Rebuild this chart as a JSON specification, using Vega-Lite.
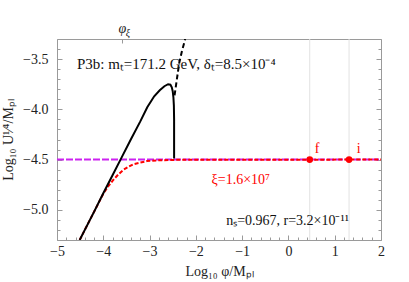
{
  "$schema": "https://vega.github.io/schema/vega-lite/v6.json",
  "width": 324,
  "height": 201,
  "autosize": {"type": "none"},
  "padding": {"left": 57, "top": 39, "right": 28, "bottom": 42},
  "background": "white",
  "config": {
    "view": {"stroke": null},
    "font": "Liberation Serif",
    "axis": {"labelFont": "Liberation Serif", "titleFont": "Liberation Serif", "labelFontSize": 14, "titleFontSize": 14, "titleFontWeight": "normal", "labelColor": "#222", "titleColor": "#222", "domainColor": "#9a9a9a", "tickColor": "#9a9a9a", "grid": false}
  },
  "datasets": {
    "solid": [
      {"i": 1, "phi": -4.51, "u": -5.30}, {"i": 2, "phi": -4.2, "u": -5.02}, {"i": 3, "phi": -4.0, "u": -4.835},
      {"i": 4, "phi": -3.8, "u": -4.655}, {"i": 5, "phi": -3.6, "u": -4.475}, {"i": 6, "phi": -3.4, "u": -4.295},
      {"i": 7, "phi": -3.2, "u": -4.12}, {"i": 8, "phi": -3.05, "u": -3.98}, {"i": 9, "phi": -2.9, "u": -3.87},
      {"i": 10, "phi": -2.78, "u": -3.81}, {"i": 11, "phi": -2.68, "u": -3.77}, {"i": 12, "phi": -2.6, "u": -3.75},
      {"i": 13, "phi": -2.55, "u": -3.755}, {"i": 14, "phi": -2.52, "u": -3.78}, {"i": 15, "phi": -2.5, "u": -3.82},
      {"i": 16, "phi": -2.485, "u": -3.88}, {"i": 17, "phi": -2.475, "u": -3.96}, {"i": 18, "phi": -2.47, "u": -4.1},
      {"i": 19, "phi": -2.47, "u": -4.49}
    ],
    "dashed": [
      {"i": 1, "phi": -2.46, "u": -3.86}, {"i": 2, "phi": -2.41, "u": -3.70}, {"i": 3, "phi": -2.36, "u": -3.54},
      {"i": 4, "phi": -2.30, "u": -3.42}, {"i": 5, "phi": -2.23, "u": -3.30}
    ],
    "red": [
      {"phi": -4.51, "u": -5.30}, {"phi": -4.3, "u": -5.11}, {"phi": -4.1, "u": -4.93}, {"phi": -4.0, "u": -4.84},
      {"phi": -3.9, "u": -4.77}, {"phi": -3.78, "u": -4.70}, {"phi": -3.67, "u": -4.645}, {"phi": -3.56, "u": -4.60},
      {"phi": -3.45, "u": -4.57}, {"phi": -3.34, "u": -4.545}, {"phi": -3.2, "u": -4.53}, {"phi": -3.06, "u": -4.515},
      {"phi": -2.8, "u": -4.507}, {"phi": -2.5, "u": -4.503}, {"phi": -2.0, "u": -4.501}, {"phi": 2.0, "u": -4.5}
    ],
    "flat": [{"phi": -5, "u": -4.5}, {"phi": 2, "u": -4.5}],
    "marks": [{"name": "f", "phi": 0.46, "u": -4.5}, {"name": "i", "phi": 1.31, "u": -4.5}],
    "titlenote": [{"x": -4.57, "y": -3.55, "text": "P3b: mₜ=171.2 GeV, δₜ=8.5×10⁻⁴"}],
    "blacknotes": [{"x": -0.02, "y": -5.11, "text": "nₛ=0.967, r=3.2×10⁻¹¹"}],
    "rednotes": [
      {"x": -1.03, "y": -4.70, "text": "ξ=1.6×10⁷"},
      {"x": 0.62, "y": -4.39, "text": "f"},
      {"x": 1.52, "y": -4.39, "text": "i"}
    ]
  },
  "resolve": {"axis": {"x": "independent", "y": "independent"}},
  "layer": [
    {
      "data": {"name": "marks"},
      "mark": {"type": "rule", "color": "#e2e2e2", "strokeWidth": 1},
      "encoding": {
        "x": {"field": "phi", "type": "quantitative", "scale": {"domain": [-5, 2], "nice": false, "zero": false}, "axis": null}
      }
    },
    {
      "data": {"name": "flat"},
      "mark": {"type": "line", "color": "#cc22f0", "strokeWidth": 2, "strokeDash": [7, 2]},
      "encoding": {
        "x": {"field": "phi", "type": "quantitative", "scale": {"domain": [-5, 2], "nice": false, "zero": false}, "axis": null},
        "y": {"field": "u", "type": "quantitative", "scale": {"domain": [-5.3, -3.3], "nice": false, "zero": false}, "axis": null}
      }
    },
    {
      "data": {"name": "red"},
      "mark": {"type": "line", "color": "#ff0000", "strokeWidth": 2, "strokeDash": [4, 2], "clip": true},
      "encoding": {
        "x": {"field": "phi", "type": "quantitative", "axis": null},
        "y": {"field": "u", "type": "quantitative", "axis": null}
      }
    },
    {
      "data": {"name": "solid"},
      "mark": {"type": "line", "color": "black", "strokeWidth": 2, "clip": true},
      "encoding": {
        "order": {"field": "i", "type": "quantitative"},
        "x": {"field": "phi", "type": "quantitative", "title": "Log₁₀ φ/Mₚₗ",
          "axis": {"orient": "bottom", "values": [-5,-4.8,-4.6,-4.4,-4.2,-4,-3.8,-3.6,-3.4,-3.2,-3,-2.8,-2.6,-2.4,-2.2,-2,-1.8,-1.6,-1.4,-1.2,-1,-0.8,-0.6,-0.4,-0.2,0,0.2,0.4,0.6,0.8,1,1.2,1.4,1.6,1.8,2],
            "format": ".0f", "labelExpr": "abs(datum.value - round(datum.value)) < 0.01 ? datum.label : ''",
            "tickSize": {"condition": {"test": "abs(datum.value - round(datum.value)) < 0.01", "value": -5}, "value": -3},
            "labelPadding": 9, "titlePadding": 4, "labelFlush": false, "labelOverlap": false}},
        "y": {"field": "u", "type": "quantitative", "title": "Log₁₀ U¹⁄⁴/Mₚₗ",
          "axis": {"orient": "left", "values": [-5.3,-5.2,-5.1,-5,-4.9,-4.8,-4.7,-4.6,-4.5,-4.4,-4.3,-4.2,-4.1,-4,-3.9,-3.8,-3.7,-3.6,-3.5,-3.4,-3.3],
            "format": ".1f", "labelExpr": "abs(datum.value*2 - round(datum.value*2)) < 0.01 ? datum.label : ''",
            "tickSize": {"condition": {"test": "abs(datum.value*2 - round(datum.value*2)) < 0.01", "value": -5}, "value": -3},
            "labelPadding": 14, "titlePadding": 7, "labelFlush": false, "labelOverlap": false}}
      }
    },
    {
      "data": {"name": "dashed"},
      "mark": {"type": "line", "color": "black", "strokeWidth": 2, "strokeDash": [5, 3], "clip": true},
      "encoding": {
        "order": {"field": "i", "type": "quantitative"},
        "x": {"field": "phi", "type": "quantitative", "title": null,
          "axis": {"orient": "top", "values": [-3.6], "labelExpr": "'φ'", "tickSize": -4, "labelPadding": 8, "labelFontSize": 14, "labelFontStyle": "italic", "labelFlush": false}},
        "y": {"field": "u", "type": "quantitative", "title": null,
          "axis": {"orient": "right", "values": [-5.3,-5.2,-5.1,-5,-4.9,-4.8,-4.7,-4.6,-4.5,-4.4,-4.3,-4.2,-4.1,-4,-3.9,-3.8,-3.7,-3.6,-3.5,-3.4,-3.3],
            "labels": false,
            "tickSize": {"condition": {"test": "abs(datum.value*2 - round(datum.value*2)) < 0.01", "value": -5}, "value": -3}}}
      }
    },
    {
      "data": {"name": "marks"},
      "mark": {"type": "point", "filled": true, "color": "#ff0000", "size": 45, "opacity": 1},
      "encoding": {
        "x": {"field": "phi", "type": "quantitative", "axis": null},
        "y": {"field": "u", "type": "quantitative", "axis": null}
      }
    },
    {
      "data": {"values": [{"x": -3.6, "y": -3.2, "text": "ξ"}]},
      "mark": {"type": "text", "font": "Liberation Serif", "fontSize": 10, "fontStyle": "italic", "color": "#222", "align": "left", "dx": 4, "dy": 4},
      "encoding": {
        "x": {"field": "x", "type": "quantitative", "axis": null},
        "y": {"field": "y", "type": "quantitative", "axis": null},
        "text": {"field": "text"}
      }
    },
    {
      "data": {"name": "titlenote"},
      "mark": {"type": "text", "font": "Liberation Serif", "fontSize": 15, "color": "#111", "align": "left"},
      "encoding": {
        "x": {"field": "x", "type": "quantitative", "axis": null},
        "y": {"field": "y", "type": "quantitative", "axis": null},
        "text": {"field": "text"}
      }
    },
    {
      "data": {"name": "blacknotes"},
      "mark": {"type": "text", "font": "Liberation Serif", "fontSize": 14, "color": "#111", "align": "center"},
      "encoding": {
        "x": {"field": "x", "type": "quantitative", "axis": null},
        "y": {"field": "y", "type": "quantitative", "axis": null},
        "text": {"field": "text"}
      }
    },
    {
      "data": {"name": "rednotes"},
      "mark": {"type": "text", "font": "Liberation Serif", "fontSize": 14, "color": "#ff0000", "align": "center"},
      "encoding": {
        "x": {"field": "x", "type": "quantitative", "axis": null},
        "y": {"field": "y", "type": "quantitative", "axis": null},
        "text": {"field": "text"}
      }
    }
  ]
}
